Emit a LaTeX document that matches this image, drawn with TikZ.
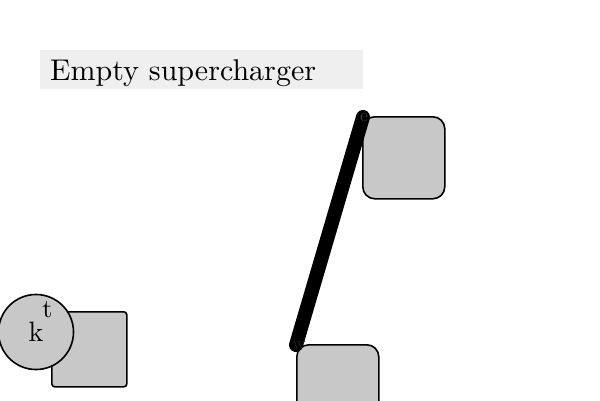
\documentclass[tikz,border=0pt]{standalone}
\usepackage{fontspec}
\setmainfont{lmroman10-regular.otf}
\begin{document}
\begin{tikzpicture}[x=1pt,y=-1pt,
  gbox/.style={draw=black,line width=1.6pt,fill={rgb,255:red,200;green,200;blue,200},rounded corners=12pt,minimum width=82pt,minimum height=82pt,inner sep=0pt,anchor=north west},
  sbox/.style={draw=black,line width=1.6pt,fill={rgb,255:red,200;green,200;blue,200},rounded corners=3pt,minimum width=75pt,minimum height=75pt,inner sep=0pt,anchor=north west},
  bar/.style={line width=14pt,line cap=round},
  tiny/.style={font=\fontsize{18}{18}\selectfont,inner sep=0pt}]
\useasboundingbox (0,0) rectangle (600,400);
\fill[fill={rgb,255:red,239;green,239;blue,239}] (40,50) rectangle (363,89);
\node[anchor=base west,inner sep=0pt,font=\fontsize{30}{34}\selectfont] (title) at (50,80) {Empty supercharger};
\node[gbox] (b1) at (362,116) {};
\node[gbox] (b2) at (296,344) {};
\node[sbox] (b3) at (51,311) {};
\node[circle,draw=black,line width=1.6pt,fill={rgb,255:red,200;green,200;blue,200},minimum size=75pt,inner sep=0pt] (c) at (36,332) {};
\node[font=\fontsize{28}{28}\selectfont,inner sep=0pt,anchor=base] (k) at (36,341) {k};
\node[font=\fontsize{26}{26}\selectfont,inner sep=0pt,anchor=base] (t) at (47.5,317) {t};
\coordinate (p1) at (363,117);
\coordinate (p2) at (296,345);
\draw[bar] (p1) -- (p2);
\node[tiny,text={rgb,255:red,60;green,60;blue,60}] (e) at (364,118) {e};
\node[tiny,text={rgb,255:red,30;green,30;blue,30}] (w) at (299,346) {w};
\end{tikzpicture}
\end{document}
